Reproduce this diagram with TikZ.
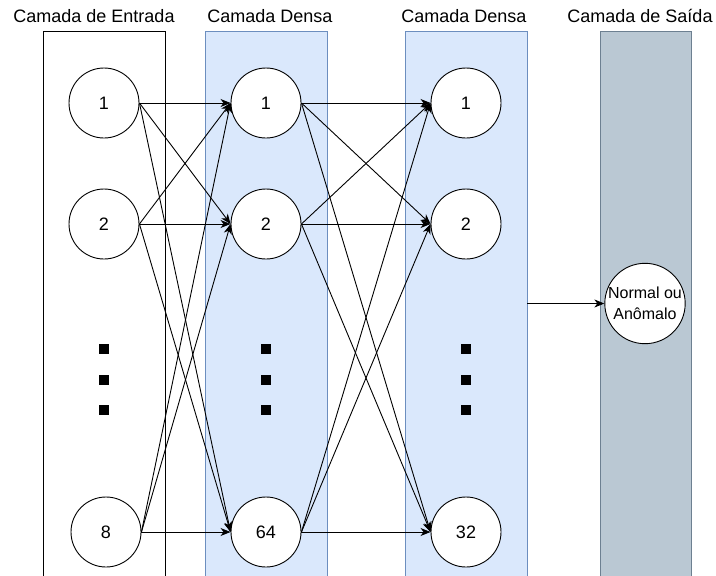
\documentclass[tikz,border=0pt]{standalone}
\usepackage{fontspec}
\setmainfont{Liberation Sans}
\usepackage{xcolor}
\usetikzlibrary{positioning,arrows.meta}

\definecolor{densefill}{HTML}{DAE8FC}
\definecolor{densedraw}{HTML}{6C8EBF}
\definecolor{outfill}{HTML}{BAC8D3}
\definecolor{outdraw}{HTML}{6D8091}

\tikzset{
  layerbox/.style={rectangle,draw,minimum width=122pt,minimum height=545pt,inner sep=0pt,outer sep=0pt,line width=0.9pt},
  layertitle/.style={font=\fontsize{18}{21}\selectfont},
  neuron/.style={circle,draw,fill=white,minimum size=70pt,inner sep=0pt,line width=0.9pt,font=\fontsize{18}{21}\selectfont},
  dotbox/.style={rectangle,fill=black,minimum size=10pt,inner sep=0pt},
  link/.style={line width=0.9pt,-{Stealth[length=10pt,width=8pt,inset=3pt]}},
}

\begin{document}
\begin{tikzpicture}[x=1pt,y=-1pt]
\useasboundingbox (0,0) rectangle (716,576);

% camadas
\node[layerbox,draw=black,fill=white] (inbox) at (104,303.5) {} ;
\node[layerbox,draw=densedraw,fill=densefill] (densebox1) at (266,303.5) {} ;
\node[layerbox,draw=densedraw,fill=densefill] (densebox2) at (466,303.5) {} ;
\node[layerbox,draw=outdraw,fill=outfill,minimum width=91pt] (outbox) at (645.5,303.5) {} ;

\node[layertitle] (t1) at (94,16) {Camada de Entrada} ;
\node[layertitle] (t2) at (270,16) {Camada Densa} ;
\node[layertitle] (t3) at (464,16) {Camada Densa} ;
\node[layertitle] (t4) at (640,16) {Camada de Saída} ;

% neuronios
\node[neuron] (i1) at (104,103) { 1 } ;
\node[neuron] (i2) at (104,224) { 2 } ;
\node[neuron] (i8) at (106,532) { 8 } ;
\node[neuron] (h1) at (266,103) { 1 } ;
\node[neuron] (h2) at (266,224) { 2 } ;
\node[neuron] (h64) at (266,532) { 64 } ;
\node[neuron] (g1) at (466,103) { 1 } ;
\node[neuron] (g2) at (466,224) { 2 } ;
\node[neuron] (g32) at (466,532) { 32 } ;
\node[neuron,minimum size=76pt,align=center,font=\fontsize{16}{20.5}\selectfont] (out) at (645,303.5) {Normal ou\\Anômalo} ;

% pontos
\node[dotbox] (ia) at (104,349) {} ;
\node[dotbox] (ib) at (104,380) {} ;
\node[dotbox] (ic) at (104,410) {} ;
\node[dotbox] (ha) at (266,349) {} ;
\node[dotbox] (hb) at (266,380) {} ;
\node[dotbox] (hc) at (266,410) {} ;
\node[dotbox] (ga) at (466,349) {} ;
\node[dotbox] (gb) at (466,380) {} ;
\node[dotbox] (gc) at (466,410) {} ;

% entrada -> densa
\draw[link] (i1.east) -- (h1.west) ;
\draw[link] (i1.east) -- (h2.west) ;
\draw[link] (i1.east) -- (h64.west) ;
\draw[link] (i2.east) -- (h1.west) ;
\draw[link] (i2.east) -- (h2.west) ;
\draw[link] (i2.east) -- (h64.west) ;
\draw[link] (i8.east) -- (h1.west) ;
\draw[link] (i8.east) -- (h2.west) ;
\draw[link] (i8.east) -- (h64.west) ;

% densa -> densa
\draw[link] (h1.east) -- (g1.west) ;
\draw[link] (h1.east) -- (g2.west) ;
\draw[link] (h1.east) -- (g32.west) ;
\draw[link] (h2.east) -- (g1.west) ;
\draw[link] (h2.east) -- (g2.west) ;
\draw[link] (h2.east) -- (g32.west) ;
\draw[link] (h64.east) -- (g1.west) ;
\draw[link] (h64.east) -- (g2.west) ;
\draw[link] (h64.east) -- (g32.west) ;

% saida
\draw[link] (densebox2) -- (out) ;

\end{tikzpicture}
\end{document}
